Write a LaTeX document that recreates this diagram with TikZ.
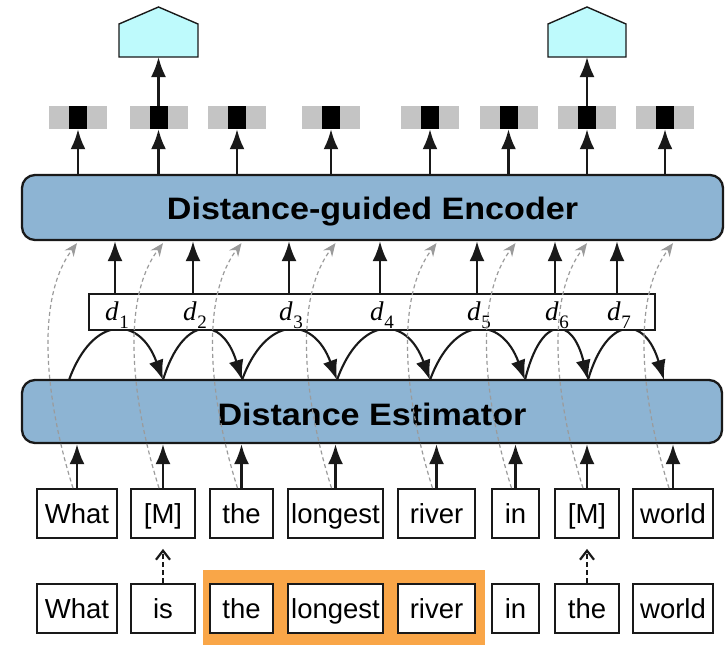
\documentclass[tikz,border=0pt]{standalone}
\usepackage{fontspec}
\setmainfont{Liberation Sans}
\newfontfamily\serifit{Liberation Serif}
\usetikzlibrary{arrows.meta,calc}

\definecolor{boxblue}{RGB}{141,180,211}
\definecolor{outcyan}{RGB}{190,250,252}
\definecolor{barcell}{RGB}{196,196,196}
\definecolor{hilite}{RGB}{249,166,72}
\definecolor{skipgray}{RGB}{155,155,155}
\definecolor{edge}{RGB}{25,25,25}

% distance label d_i: italic d with an upright lowered index
\newcommand\distlab[1]{\textit{d}\kern0.5pt\raisebox{-8pt}{\fontsize{19}{19}\selectfont\upshape #1}}

\begin{document}
\begin{tikzpicture}[x=1pt,y=-1pt,
  token/.style={draw=edge, line width=1.8pt, fill=white, minimum height=49pt,
    inner sep=0pt, text height=20pt, text depth=0pt, font=\fontsize{27.5}{27.5}\selectfont},
  module/.style={draw=edge, line width=2.3pt, fill=boxblue, rounded corners=13pt,
    inner sep=0pt, text depth=0pt, font=\bfseries\fontsize{31}{31}\selectfont},
  up/.style={line width=2.4pt, draw=edge, -{Latex[length=20pt,width=15pt]}},
  hop/.style={line width=2.1pt, draw=edge, -{Latex[length=20pt,width=15pt]}},
  skip/.style={line width=1.2pt, draw=skipgray, dash pattern=on 4pt off 3pt,
    -{Stealth[length=13pt,width=11pt,fill=skipgray]}},
  mask/.style={line width=2.2pt, draw=edge, dash pattern=on 5pt off 3pt,
    -{Straight Barb[length=9pt,width=14pt]}},
  cell/.style={fill=barcell, minimum width=58pt, minimum height=23pt, inner sep=0pt},
  core/.style={fill=black, minimum width=18pt, minimum height=23pt, inner sep=0pt},
  dlab/.style={font=\serifit\fontsize{27}{27}\selectfont, inner sep=0pt, anchor=base},
  outshape/.style={draw=edge, line width=1.4pt, fill=outcyan}
]
\useasboundingbox (0,0) rectangle (725,645);

% highlighted span of the original question
\fill[hilite] (203,570) rectangle (485,645);

% the two modules
\node[module, minimum width=701pt, minimum height=65pt, text height=24pt] (enc) at (372.5,207.5)
  {\scalebox{1.1}[1]{Distance-guided Encoder}};
\node[module, minimum width=700pt, minimum height=63pt, text height=27pt] (est) at (372,411.5)
  {\scalebox{1.1}[1]{Distance Estimator}};

% masked input tokens (upper row) and original tokens (lower row)
\foreach \n/\x/\w/\txt in {1/77/80/What, 2/163/64/{[M]}, 3/241.5/63/the, 4/335.5/95/longest,
                           5/436.5/77/river, 6/515.5/47/in, 7/587/64/{[M]}, 8/673/80/world}
  \node[token, minimum width=\w pt] (t\n) at (\x,513.5) {\txt};
\foreach \n/\x/\w/\txt in {1/77/80/What, 2/163/64/is, 3/241.5/63/the, 4/335.5/95/longest,
                           5/436.5/77/river, 6/515.5/47/in, 7/587/64/the, 8/673/80/world}
  \node[token, minimum width=\w pt] (s\n) at (\x,608.5) {\txt};

% masking steps
\draw[mask] (s2.north) -- ($(t2.south)+(0,10)$);
\draw[mask] (s7.north) -- ($(t7.south)+(0,10)$);

% tokens into the estimator
\foreach \n in {1,...,8}
  \draw[up] (t\n.north) -- (t\n.north |- est.south);

% hops between consecutive tokens
\foreach \i/\x in {0/69, 1/163, 2/242, 3/337, 4/430, 5/525, 6/588, 7/664}
  \coordinate (p\i) at (\x,380);
\foreach \a/\b in {0/1, 1/2, 2/3, 3/4, 4/5, 5/6, 6/7}
  \draw[hop] (p\a) .. controls ($(p\a)!0.25!(p\b)+(0,-65)$) and ($(p\a)!0.75!(p\b)+(0,-65)$) .. (p\b);

% estimated distances
\node[draw=edge, line width=1.8pt, fill=white, minimum width=566pt, minimum height=36pt, inner sep=0pt]
  (dbox) at (372,312) {};
\foreach \i/\x in {1/115, 2/193, 3/289, 4/380, 5/477, 6/555, 7/617} {
  \node[dlab] (d\i) at (\x+2,320) {\distlab{\i}};
  \draw[up] (\x,0 |- dbox.north) -- (\x,0 |- enc.south);
}

% token embeddings passed straight to the encoder
\foreach \n in {1,...,8}
  \draw[skip] ($(t\n.north)+(-4,0)$) .. controls ($(t\n.north)+(-32,-89)$) and ($(t\n.north)+(-42,-189)$)
    .. ($(t\n.north |- enc.south)+(0,2)$);

% output vectors
\foreach \i/\x in {1/78, 2/158.5, 3/237, 4/331, 5/430, 6/508.5, 7/587, 8/665} {
  \node[cell] (o\i) at (\x,117.5) {};
  \node[core] at (o\i) {};
  \draw[up] (o\i.south |- enc.north) -- (o\i.south);
}

% prediction heads over the masked positions
\draw[outshape] (119,57) -- (119,24) -- (158.5,7) -- (198,24) -- (198,57) -- cycle;
\coordinate (h1) at (158.5,57);
\draw[outshape] (548,57) -- (548,24) -- (587,7) -- (626,24) -- (626,57) -- cycle;
\coordinate (h2) at (587,57);
\draw[up] (o2.north) -- (h1);
\draw[up] (o7.north) -- (h2);
\end{tikzpicture}
\end{document}
